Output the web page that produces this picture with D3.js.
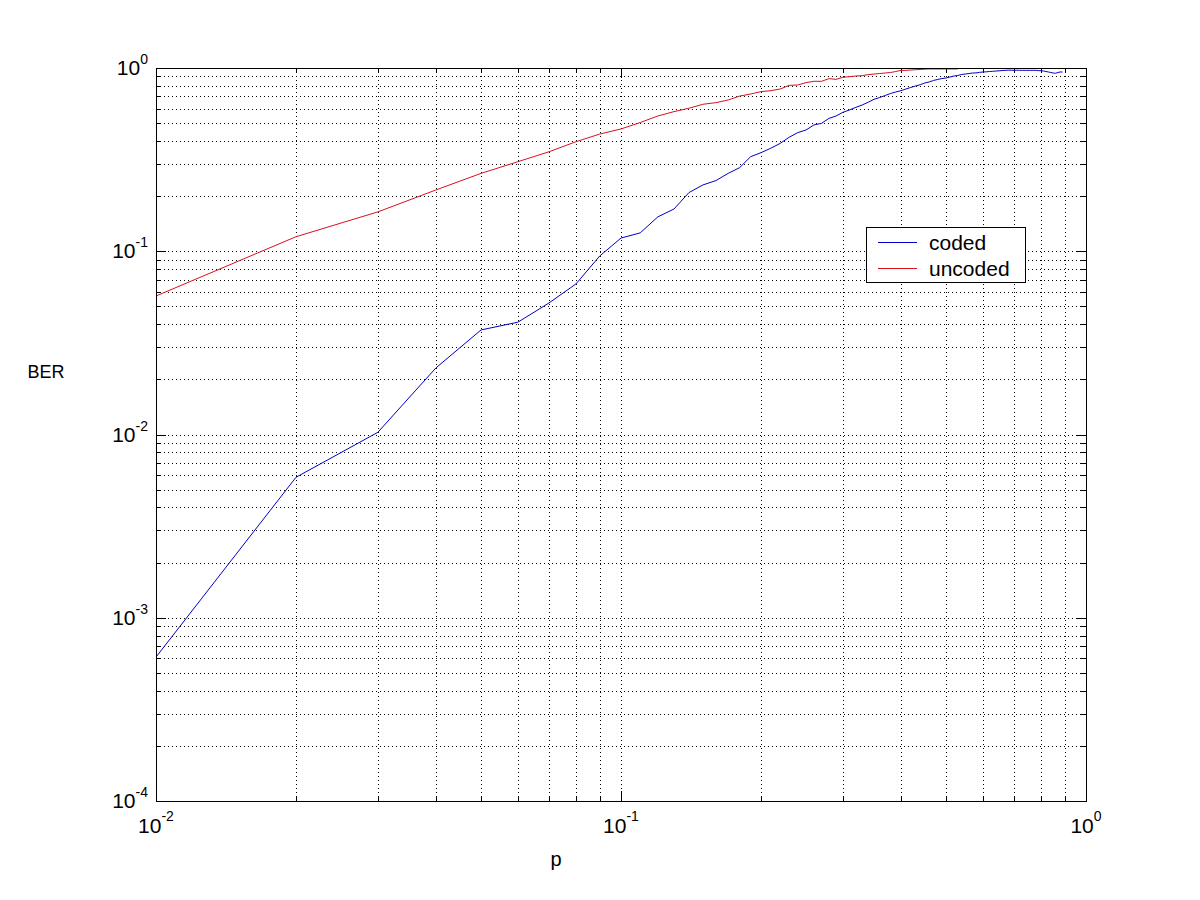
<!DOCTYPE html>
<html>
<head>
<meta charset="utf-8">
<script src="https://cdn.jsdelivr.net/npm/d3@7"></script>
<style>
  html, body { margin: 0; padding: 0; background: #fff; }
  svg { display: block; font-family: "Liberation Sans", Arial, sans-serif; }
</style>
</head>
<body>
<svg id="chart" width="1200" height="900"></svg>
<script>
// ---- data ----
const pCoded = [0.01,0.02,0.03,0.04,0.05,0.06,0.07,0.08,0.09,0.10,
  0.11,0.12,0.13,0.14,0.15,0.16,0.17,0.18,0.19,0.20,
  0.21,0.22,0.23,0.24,0.25,0.26,0.27,0.28,0.29,0.30,
  0.31,0.32,0.33,0.34,0.35,0.36,0.37,0.38,0.39,0.40,
  0.41,0.42,0.43,0.44,0.45,0.46,0.47,0.48,0.49,0.50,
  0.51,0.52,0.53,0.54,0.55,0.56,0.57,0.58,0.59,0.60,
  0.61,0.62,0.63,0.64,0.65,0.66,0.67,0.68,0.69,0.70,
  0.71,0.72,0.73,0.74,0.75,0.76,0.77,0.78,0.79,0.80,
  0.81,0.82,0.83,0.84,0.85,0.86,0.87,0.88,0.89];
const berCoded = [0.00061,0.00584,0.01028,0.0231,0.0372,0.0410,0.0522,0.0663,0.0942,0.118,
  0.126,0.154,0.170,0.209,0.230,0.243,0.266,0.286,0.328,0.345,
  0.365,0.388,0.419,0.444,0.459,0.489,0.499,0.531,0.547,0.573,
  0.590,0.610,0.628,0.650,0.675,0.690,0.708,0.726,0.740,0.752,
  0.768,0.783,0.798,0.811,0.828,0.839,0.855,0.866,0.876,0.882,
  0.893,0.904,0.910,0.922,0.927,0.933,0.939,0.940,0.946,0.951,
  0.953,0.957,0.959,0.963,0.965,0.969,0.971,0.973,0.973,0.971,
  0.973,0.971,0.971,0.971,0.971,0.971,0.971,0.971,0.967,0.967,
  0.963,0.957,0.951,0.945,0.939,0.936,0.945,0.951,0.951];

const pUncoded = [0.01,0.02,0.03,0.04,0.05,0.06,0.07,0.08,0.09,0.10,
  0.11,0.12,0.13,0.14,0.15,0.16,0.17,0.18,0.19,0.20,
  0.21,0.22,0.23,0.24,0.25,0.26,0.27,0.28,0.29,0.30,
  0.31,0.32,0.33,0.34,0.35,0.36,0.37,0.38,0.39,0.40,
  0.41,0.42,0.43,0.44,0.45,0.46,0.47,0.48,0.49,0.50,
  0.51,0.52,0.53];
const berUncoded = [0.0570,0.120,0.164,0.216,0.266,0.308,0.349,0.396,0.436,0.465,
  0.504,0.547,0.578,0.603,0.634,0.647,0.669,0.703,0.721,0.743,
  0.752,0.768,0.804,0.808,0.832,0.846,0.846,0.875,0.867,0.889,
  0.897,0.904,0.908,0.920,0.927,0.933,0.939,0.945,0.957,0.971,
  0.971,0.975,0.979,0.981,0.985,0.988,0.988,0.988,0.988,0.988,
  0.988,0.988,0.988];

const seriesNames = ["coded", "uncoded"];
const seriesColors = ["#0000c8", "#d8101e"];
const xMajorTicks = [0.01, 0.1, 1];
const xTickExponents = ["-2", "-1", "0"];
const yMajorTicks = [1e-4, 1e-3, 1e-2, 1e-1, 1];
const yTickExponents = ["-4", "-3", "-2", "-1", "0"];
const xLabel = "p";
const yLabel = "BER";

// ---- layout ----
const L = 156, R = 1086, T = 68, B = 801;
const svg = d3.select("#chart");
const x = d3.scaleLog().domain([0.01, 1]).range([L, R]);
const y = d3.scaleLog().domain([1e-4, 1]).range([B, T]);

const px = v => Math.round(v) + 0.5;

const xAll = x.ticks();
const yAll = y.ticks();
const isMajor = v => Math.abs(Math.log10(v) - Math.round(Math.log10(v))) < 1e-9;

// grid
const grid = svg.append("g").attr("stroke", "#000").attr("stroke-width", 1)
  .attr("stroke-dasharray", "1,3").attr("shape-rendering", "crispEdges");
grid.selectAll("line.gx").data(xAll.filter(v => v > 0.01 * 1.0001 && v < 0.9999))
  .join("line").attr("class", "gx")
  .attr("x1", d => px(x(d))).attr("x2", d => px(x(d)))
  .attr("y1", T).attr("y2", B);
grid.selectAll("line.gy").data(yAll.filter(v => v > 1e-4 * 1.0001 && v < 0.9999))
  .join("line").attr("class", "gy")
  .attr("y1", d => px(y(d))).attr("y2", d => px(y(d)))
  .attr("x1", L).attr("x2", R);

// ticks (inward, all four sides)
const tk = svg.append("g").attr("stroke", "#000").attr("stroke-width", 1)
  .attr("shape-rendering", "crispEdges");
const tlen = d => isMajor(d) ? 10 : 5;
tk.selectAll("line.tb").data(xAll).join("line").attr("class", "tb")
  .attr("x1", d => px(x(d))).attr("x2", d => px(x(d)))
  .attr("y1", B).attr("y2", d => B - tlen(d));
tk.selectAll("line.tt").data(xAll).join("line").attr("class", "tt")
  .attr("x1", d => px(x(d))).attr("x2", d => px(x(d)))
  .attr("y1", T).attr("y2", d => T + tlen(d));
tk.selectAll("line.tl").data(yAll).join("line").attr("class", "tl")
  .attr("y1", d => px(y(d))).attr("y2", d => px(y(d)))
  .attr("x1", L).attr("x2", d => L + tlen(d));
tk.selectAll("line.tr").data(yAll).join("line").attr("class", "tr")
  .attr("y1", d => px(y(d))).attr("y2", d => px(y(d)))
  .attr("x1", R).attr("x2", d => R - tlen(d));

// series lines
const clipId = "plotclip";
svg.append("clipPath").attr("id", clipId).append("rect")
  .attr("x", L).attr("y", T).attr("width", R - L).attr("height", B - T);
const line = d3.line().x(d => x(d[0])).y(d => y(d[1]));
const seriesData = [
  d3.zip(pCoded, berCoded),
  d3.zip(pUncoded, berUncoded)
];
svg.append("g").attr("clip-path", `url(#${clipId})`)
  .selectAll("path").data(seriesData).join("path")
  .attr("d", line).attr("fill", "none")
  .attr("stroke", (d, i) => seriesColors[i]).attr("stroke-width", 1);

// axis box
svg.append("rect").attr("x", L + 0.5).attr("y", T + 0.5)
  .attr("width", R - L).attr("height", B - T)
  .attr("fill", "none").attr("stroke", "#000").attr("stroke-width", 1)
  .attr("shape-rendering", "crispEdges");

// tick labels
const xl = svg.append("g").attr("font-size", 21).attr("fill", "#000");
xMajorTicks.forEach((v, i) => {
  const t = xl.append("text").attr("x", x(v)).attr("y", 833).attr("text-anchor", "middle");
  t.append("tspan").text("10");
  t.append("tspan").attr("dy", -12).attr("font-size", 14).text(xTickExponents[i]);
});
const yl = svg.append("g").attr("font-size", 21).attr("fill", "#000");
yMajorTicks.forEach((v, i) => {
  const t = yl.append("text").attr("x", 148).attr("y", y(v) + 7).attr("text-anchor", "end");
  t.append("tspan").text("10");
  t.append("tspan").attr("dy", -11).attr("font-size", 14).text(yTickExponents[i]);
});

// axis labels
svg.append("text").attr("x", 556).attr("y", 866).attr("text-anchor", "middle")
  .attr("font-size", 20).text(xLabel);
svg.append("text").attr("x", 46).attr("y", 378).attr("text-anchor", "middle")
  .attr("font-size", 18).text(yLabel);

// legend
const lg = svg.append("g");
lg.append("rect").attr("x", 866.5).attr("y", 227.5).attr("width", 159).attr("height", 55)
  .attr("fill", "#fff").attr("stroke", "#000").attr("stroke-width", 1)
  .attr("shape-rendering", "crispEdges");
seriesNames.forEach((name, i) => {
  const ly = 242.5 + i * 26;
  lg.append("line").attr("x1", 878).attr("x2", 917).attr("y1", ly).attr("y2", ly)
    .attr("stroke", seriesColors[i]).attr("stroke-width", 1);
  lg.append("text").attr("x", 929).attr("y", ly + 7).attr("font-size", 21).text(name);
});
</script>
</body>
</html>
